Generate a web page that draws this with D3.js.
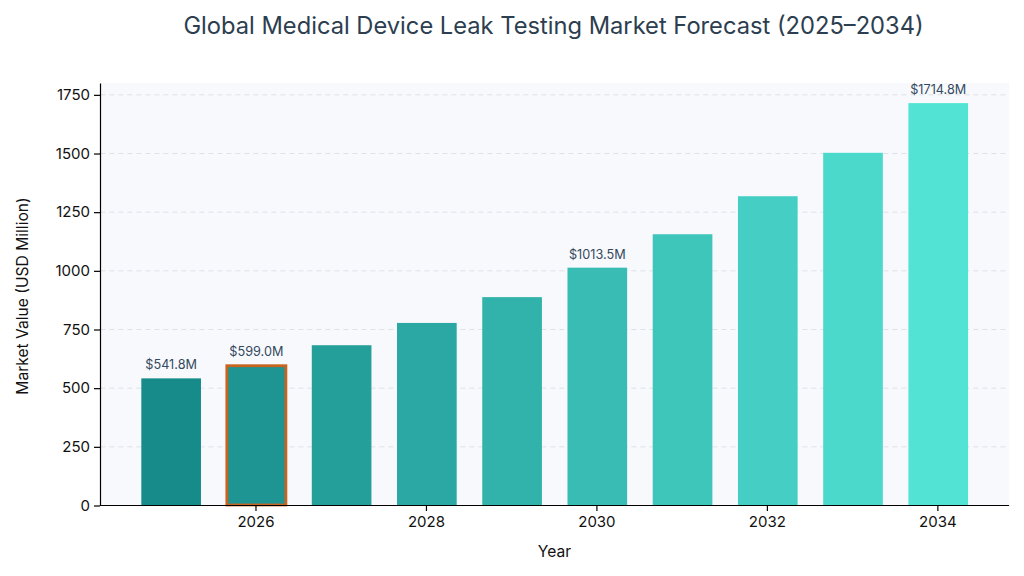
<!DOCTYPE html>
<html>
<head>
<meta charset="utf-8">
<title>Leak Testing Market</title>
<style>
body { margin: 0; background: #fff; font-family: Inter, sans-serif; }
.axis text { font-size: 15px; fill: #111; font-family: Inter, sans-serif; }
.axis path, .axis line { stroke: #000; stroke-width: 1.2; }
.grid line { stroke: #dde1e8; stroke-dasharray: 5 4; }
</style>
<script src="https://d3js.org/d3.v7.min.js"></script>
</head>
<body>
<script>
var years = [2025, 2026, 2027, 2028, 2029, 2030, 2031, 2032, 2033, 2034];
var values = [541.8, 599.0, 683, 778, 888, 1013.5, 1156, 1318, 1503, 1714.8];
var labelled = [2025, 2026, 2030, 2034];
var highlighted = [2026];
var yTicks = [0, 250, 500, 750, 1000, 1250, 1500, 1750];
var xTicks = [2026, 2028, 2030, 2032, 2034];

var left = 100.4, right = 1009, top_ = 83, bottom = 505.5;

var svg = d3.select("body").append("svg")
    .attr("width", 1024)
    .attr("height", 576)
    .style("display", "block");

var x = d3.scaleBand().domain(years).range([left, right])
    .paddingInner(0.3).paddingOuter(0.48);
var y = d3.scaleLinear().domain([0, 1800.5]).range([bottom, top_]);
var color = d3.scaleLinear().domain([2025, 2034]).range(["#178b8a", "#52e3d4"]);

svg.append("rect")
    .attr("x", left).attr("y", top_)
    .attr("width", right - left).attr("height", bottom - top_)
    .attr("fill", "#f8f9fd");

svg.append("g").attr("class", "grid")
    .selectAll("line").data(yTicks).enter().append("line")
    .attr("x1", left).attr("x2", right)
    .attr("y1", function(d) { return y(d); })
    .attr("y2", function(d) { return y(d); });

var data = years.map(function(d, i) { return {year: d, value: values[i]}; });

svg.selectAll("rect.bar").data(data).enter().append("rect")
    .attr("class", "bar")
    .attr("x", function(d) { return x(d.year); })
    .attr("y", function(d) { return y(d.value); })
    .attr("width", x.bandwidth())
    .attr("height", function(d) { return bottom - y(d.value); })
    .attr("fill", function(d) { return color(d.year); });

// outline of the picked bar
svg.selectAll("rect.mark").data(data.filter(function(d) { return highlighted.includes(d.year); }))
    .enter().append("rect")
    .attr("class", "mark")
    .attr("x", function(d) { return x(d.year) + 0.3; })
    .attr("y", function(d) { return y(d.value) + 0.8; })
    .attr("width", x.bandwidth() - 0.6)
    .attr("height", function(d) { return bottom - y(d.value) - 1.3; })
    .attr("fill", "none")
    .attr("stroke", "#c8641f")
    .attr("stroke-width", 2.8);

svg.selectAll("text.val").data(data.filter(function(d) { return labelled.includes(d.year); }))
    .enter().append("text")
    .attr("class", "val")
    .attr("x", function(d) { return x(d.year) + x.bandwidth() / 2; })
    .attr("y", function(d) { return y(d.value) - 9; })
    .attr("text-anchor", "middle")
    .attr("font-size", 12.7)
    .attr("fill", "#34495e")
    .text(function(d) { return "$" + d.value.toFixed(1) + "M"; });

svg.append("g").attr("class", "axis")
    .attr("transform", "translate(100,0)")
    .call(d3.axisLeft(y).tickValues(yTicks).tickSizeOuter(0).tickFormat(d3.format("d")).tickPadding(4));

svg.append("g").attr("class", "axis")
    .attr("transform", "translate(-0.4,505)")
    .call(d3.axisBottom(x).tickValues(xTicks).tickSizeOuter(0).tickPadding(5));

svg.append("text")
    .attr("x", 553.5).attr("y", 34)
    .attr("text-anchor", "middle")
    .attr("font-size", 23.7)
    .attr("fill", "#2c3e50")
    .text("Global Medical Device Leak Testing Market Forecast (2025–2034)");

svg.append("text")
    .attr("x", 554.5).attr("y", 557)
    .attr("text-anchor", "middle")
    .attr("font-size", 15.6)
    .attr("fill", "#111")
    .text("Year");

svg.append("text")
    .attr("transform", "translate(28,296) rotate(-90)")
    .attr("text-anchor", "middle")
    .attr("font-size", 15.6)
    .attr("fill", "#111")
    .text("Market Value (USD Million)");
</script>
</body>
</html>
